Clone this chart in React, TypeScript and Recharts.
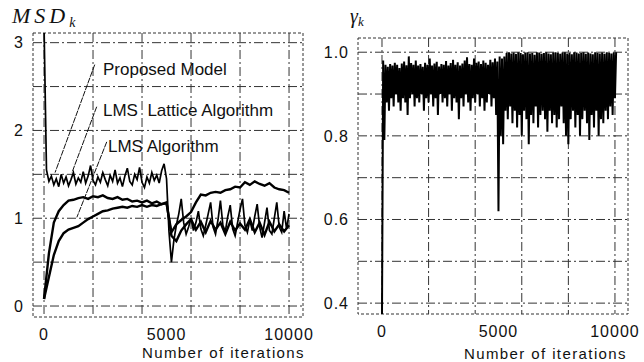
import { LineChart, Line, XAxis, YAxis, CartesianGrid, ReferenceArea, ReferenceLine } from 'recharts'

// axes / grid
const iterTicks = [0, 5000, 10000]
const iterGrid = [0, 2000, 4000, 6000, 8000, 10000]
const msdTicks = [0, 1, 2, 3]
const msdGrid = [0, 0.5, 1, 1.5, 2, 2.5, 3]
const gammaTicks = [0.4, 0.6, 0.8, 1.0]
const gammaGrid = [0.4, 0.5, 0.6, 0.7, 0.8, 0.9, 1.0]

// MSD_k, LMS algorithm, one value every 200 iterations
const lmsMsd = [
  0.08, 0.33, 0.58, 0.74, 0.83, 0.87, 0.89, 0.91, 0.95, 0.99,
  1.02, 1.05, 1.08, 1.09, 1.11, 1.12, 1.13, 1.12, 1.14, 1.13,
  1.15, 1.13, 1.15, 1.14, 1.16, 1.17,
  0.84, 0.93, 0.98, 1.02, 1.07, 1.18, 1.27, 1.26, 1.29, 1.30,
  1.29, 1.32, 1.33, 1.36, 1.35, 1.41, 1.38, 1.42, 1.39, 1.37,
  1.40, 1.35, 1.33, 1.32, 1.29,
]

// MSD_k, LMS lattice algorithm, one value every 200 iterations
const latticeMsd = [
  0.08, 0.6, 0.95, 1.08, 1.15, 1.2, 1.21, 1.23, 1.24, 1.22,
  1.25, 1.24, 1.26, 1.23, 1.22, 1.24, 1.21, 1.22, 1.19, 1.2,
  1.18, 1.2, 1.17, 1.19, 1.16, 1.18,
  0.8, 0.74, 0.86, 0.93, 0.99, 0.87, 0.96, 0.84, 0.97, 0.87,
  0.95, 0.82, 0.96, 0.86, 0.94, 0.87, 0.99, 0.84, 0.95, 0.81,
  0.96, 0.85, 0.93, 0.85, 0.92,
]

// MSD_k, proposed model, one value every 100 iterations
const proposedMsd = [
  3.2, 1.55, 1.42, 1.48, 1.38, 1.45, 1.36, 1.5, 1.4, 1.47,
  1.37, 1.44, 1.52, 1.39, 1.46, 1.41, 1.53, 1.4, 1.48, 1.6,
  1.43, 1.38, 1.47, 1.41, 1.52, 1.44, 1.37, 1.49, 1.42, 1.55,
  1.4, 1.46, 1.36, 1.48, 1.57, 1.42, 1.38, 1.5, 1.44, 1.58,
  1.41, 1.35, 1.47, 1.4, 1.52, 1.43, 1.49, 1.4, 1.54, 1.62,
  1.45,
  0.85, 0.5, 0.75, 0.92, 1.05, 1.22, 0.95, 0.82, 0.9, 1.0,
  0.86, 0.95, 1.08, 0.88, 0.8, 0.92, 1.05, 1.18, 0.9, 0.82,
  0.98, 1.2, 0.92, 0.85, 1.02, 1.15, 0.88, 0.8, 0.95, 1.1,
  1.22, 0.92, 0.84, 0.98, 0.86, 1.02, 1.16, 0.9, 0.78, 0.95,
  1.12, 0.86, 0.82, 1.0, 1.18, 0.9, 0.84, 1.08, 0.88, 1.05,
]

// gamma_k, upper and lower edge of the noise, one pair every 100 iterations
const gammaHigh = [
  0.98, 0.97, 0.965, 0.972, 0.968, 0.975, 0.97, 0.962, 0.973, 0.978,
  0.969, 0.99, 0.974, 0.97, 0.98, 0.968, 0.972, 0.965, 0.975, 0.97,
  0.985, 0.968, 0.973, 0.977, 0.966, 0.972, 0.97, 0.979, 0.968, 0.974,
  0.982, 0.97, 0.976, 0.968, 0.973, 0.98, 0.988, 0.972, 0.97, 0.985,
  0.975, 0.978, 0.972, 0.98, 0.975, 0.97, 0.982, 0.976, 0.985, 0.978,
  0.99, 0.985, 0.99, 0.998, 1.0, 0.997, 0.999, 0.996, 1.0, 0.998,
  0.995, 0.999, 1.0, 0.997, 0.998, 0.994, 1.0, 0.999, 0.996, 0.998,
  1.0, 0.997, 0.995, 0.999, 1.0, 0.998, 0.996, 0.999, 1.0, 0.997,
  0.998, 0.995, 1.0, 0.999, 0.997, 0.998, 1.0, 0.996, 0.999, 0.997,
  0.995, 1.0, 0.998, 0.997, 0.999, 0.996, 1.0, 0.998, 0.997, 0.999,
  1.0,
]
const gammaLow = [
  0.37, 0.79, 0.88, 0.86, 0.89, 0.87, 0.9, 0.88, 0.86, 0.89,
  0.88, 0.85, 0.89, 0.9, 0.87, 0.89, 0.88, 0.9, 0.86, 0.89,
  0.88, 0.9, 0.87, 0.89, 0.85, 0.9, 0.88, 0.89, 0.87, 0.9,
  0.86, 0.89, 0.88, 0.84, 0.89, 0.87, 0.9, 0.88, 0.86, 0.89,
  0.88, 0.9, 0.87, 0.89, 0.86, 0.88, 0.9, 0.87, 0.89, 0.85,
  0.62, 0.8, 0.78, 0.86, 0.84, 0.87, 0.83, 0.86, 0.82, 0.85,
  0.8, 0.86, 0.84, 0.78, 0.85, 0.83, 0.87, 0.82, 0.85, 0.86,
  0.84, 0.81, 0.86, 0.83, 0.85, 0.82, 0.84, 0.87, 0.83, 0.8,
  0.78, 0.84, 0.86, 0.82, 0.85, 0.8, 0.84, 0.86, 0.83, 0.79,
  0.85, 0.82, 0.86, 0.8, 0.84, 0.83, 0.86, 0.84, 0.87, 0.85,
  0.89,
]

// leader lines from the labels to the curves: [iteration, msd] pairs
const leaderProposed = [[2070, 2.75], [450, 1.52]]
const leaderLattice = [[2150, 2.27], [1140, 1.52]]
const leaderLms = [[2560, 1.87], [1340, 1.01]]

const lmsData = lmsMsd.map((y, i) => ({ x: i * 200, y }))
const latticeData = latticeMsd.map((y, i) => ({ x: i * 200, y }))
const proposedData = proposedMsd.map((y, i) => ({ x: i * 100, y }))
const gammaData = gammaLow.flatMap((lo, i) => [
  { x: i * 100, y: lo },
  { x: i * 100 + 50, y: gammaHigh[i] },
])

const FONT = '"Liberation Sans", Arial, sans-serif'
const SERIF = '"Liberation Serif", "DejaVu Serif", serif'
const tickStyle = { fill: '#111', fontSize: 16, fontFamily: FONT, letterSpacing: 1 }
const gridStroke = '#333'
const gridDash = '9 3 2 3'

const msdX: [number, number] = [-450, 10570]
const msdY: [number, number] = [-0.125, 3.11]
const gammaX: [number, number] = [-1030, 10560]
const gammaY: [number, number] = [0.374, 1.034]

function leader(pts: number[][], key: string) {
  return (
    <ReferenceLine
      key={key}
      segment={[{ x: pts[0][0], y: pts[0][1] }, { x: pts[1][0], y: pts[1][1] }]}
      stroke="#111"
      strokeWidth={1}
      strokeDasharray="6 1"
    />
  )
}

export default function App() {
  return (
    <div style={{ position: 'absolute', left: 0, top: 0, width: 644, height: 362, background: '#fff' }}>
      <div style={{ position: 'absolute', left: 0, top: 0 }}>
        <LineChart width={322} height={362} margin={{ top: 33, right: 19, bottom: 15, left: 13 }}>
          <CartesianGrid horizontalValues={msdGrid} verticalValues={iterGrid} stroke={gridStroke} strokeDasharray={gridDash} />
          <XAxis type="number" dataKey="x" domain={msdX} ticks={iterTicks} allowDataOverflow axisLine={false} tickLine={false} tickMargin={6} height={30} tick={tickStyle} />
          <YAxis type="number" dataKey="y" domain={msdY} ticks={msdTicks} allowDataOverflow axisLine={false} tickLine={false} width={20} tickMargin={3} tick={tickStyle} />
          <ReferenceArea x1={msdX[0]} x2={msdX[1]} y1={msdY[0]} y2={msdY[1]} fill="none" fillOpacity={0} stroke="#333" strokeDasharray="3 2" />
          <Line data={proposedData} dataKey="y" type="linear" stroke="#000" strokeWidth={1.7} dot={false} isAnimationActive={false} />
          <Line data={latticeData} dataKey="y" type="linear" stroke="#000" strokeWidth={2.4} dot={false} isAnimationActive={false} />
          <Line data={lmsData} dataKey="y" type="linear" stroke="#000" strokeWidth={2.4} dot={false} isAnimationActive={false} />
          {leader(leaderProposed, 'a')}
          {leader(leaderLattice, 'b')}
          {leader(leaderLms, 'c')}
        </LineChart>
      </div>
      <div style={{ position: 'absolute', left: 322, top: 0 }}>
        <LineChart width={322} height={362} margin={{ top: 38, right: 16, bottom: 18, left: 6 }}>
          <CartesianGrid horizontalValues={gammaGrid} verticalValues={iterGrid} stroke={gridStroke} strokeDasharray={gridDash} />
          <XAxis type="number" dataKey="x" domain={gammaX} ticks={iterTicks} allowDataOverflow axisLine={false} tickLine={false} tickMargin={6} height={30} tick={tickStyle} />
          <YAxis type="number" dataKey="y" domain={gammaY} ticks={gammaTicks} allowDataOverflow axisLine={false} tickLine={false} width={30} tickMargin={3} tick={tickStyle} tickFormatter={(v: number) => v.toFixed(1)} />
          <ReferenceArea x1={gammaX[0]} x2={gammaX[1]} y1={gammaY[0]} y2={gammaY[1]} fill="none" fillOpacity={0} stroke="#333" strokeDasharray="3 2" />
          <Line data={gammaData} dataKey="y" type="linear" stroke="#000" strokeWidth={2} dot={false} isAnimationActive={false} />
        </LineChart>
      </div>
      <svg width={644} height={362} style={{ position: 'absolute', left: 0, top: 0, pointerEvents: 'none' }}>
        <text x={12} y={23} fontFamily={SERIF} fontStyle="italic" fontSize={22} letterSpacing={4} fill="#111">
          MSD<tspan fontSize={14} dy={4} letterSpacing={0}>k</tspan>
        </text>
        <text x={350} y={23} fontFamily={SERIF} fontStyle="italic" fontSize={20} fill="#111">
          γ<tspan fontSize={13} dy={3}>k</tspan>
        </text>
        <g fontFamily={FONT} fontSize={17} fill="#111">
          <text x={103} y={75}>Proposed Model</text>
          <text x={103} y={116} xmlSpace="preserve">LMS  Lattice Algorithm</text>
          <text x={108} y={152}>LMS Algorithm</text>
        </g>
        <g fontFamily={FONT} fontSize={15} fill="#111" letterSpacing={1.4} textAnchor="end">
          <text x={305} y={358}>Number of iterations</text>
          <text x={627} y={359}>Number of iterations</text>
        </g>
      </svg>
    </div>
  )
}
